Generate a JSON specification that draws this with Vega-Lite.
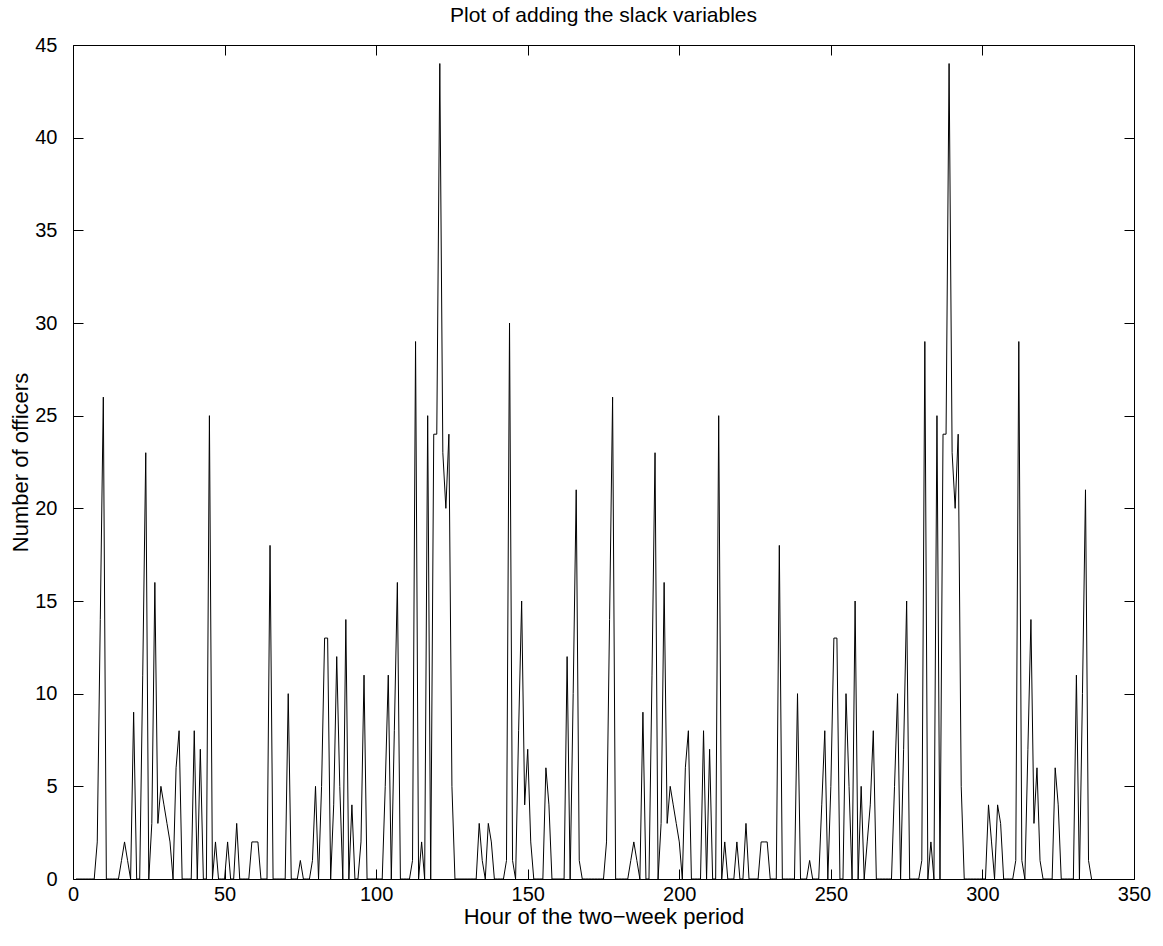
{
  "$schema": "https://vega.github.io/schema/vega-lite/v6.json",
  "width": 1061,
  "height": 834,
  "autosize": "none",
  "padding": {"left": 73, "top": 45, "right": 29, "bottom": 67},
  "background": "white",
  "config": {"view": {"stroke": null}, "font": "Liberation Sans"},
  "title": {"text": "Plot of adding the slack variables", "font": "Liberation Sans", "fontSize": 21, "fontWeight": "normal", "color": "black", "offset": 9},
  "data": {"values": [
{"h":1,"v":0},{"h":2,"v":0},{"h":3,"v":0},{"h":4,"v":0},{"h":5,"v":0},{"h":6,"v":0},{"h":7,"v":0},
{"h":8,"v":2},{"h":9,"v":14},{"h":10,"v":26},{"h":11,"v":0},{"h":12,"v":0},{"h":13,"v":0},{"h":14,"v":0},
{"h":15,"v":0},{"h":16,"v":1},{"h":17,"v":2},{"h":18,"v":1},{"h":19,"v":0},{"h":20,"v":9},{"h":21,"v":0},
{"h":22,"v":0},{"h":23,"v":11},{"h":24,"v":23},{"h":25,"v":0},{"h":26,"v":3},{"h":27,"v":16},{"h":28,"v":3},
{"h":29,"v":5},{"h":30,"v":4},{"h":31,"v":3},{"h":32,"v":2},{"h":33,"v":0},{"h":34,"v":6},{"h":35,"v":8},
{"h":36,"v":0},{"h":37,"v":0},{"h":38,"v":0},{"h":39,"v":0},{"h":40,"v":8},{"h":41,"v":0},{"h":42,"v":7},
{"h":43,"v":0},{"h":44,"v":0},{"h":45,"v":25},{"h":46,"v":0},{"h":47,"v":2},{"h":48,"v":0},{"h":49,"v":0},
{"h":50,"v":0},{"h":51,"v":2},{"h":52,"v":0},{"h":53,"v":0},{"h":54,"v":3},{"h":55,"v":0},{"h":56,"v":0},
{"h":57,"v":0},{"h":58,"v":0},{"h":59,"v":2},{"h":60,"v":2},{"h":61,"v":2},{"h":62,"v":0},{"h":63,"v":0},
{"h":64,"v":0},{"h":65,"v":18},{"h":66,"v":0},{"h":67,"v":0},{"h":68,"v":0},{"h":69,"v":0},{"h":70,"v":0},
{"h":71,"v":10},{"h":72,"v":0},{"h":73,"v":0},{"h":74,"v":0},{"h":75,"v":1},{"h":76,"v":0},{"h":77,"v":0},
{"h":78,"v":0},{"h":79,"v":1},{"h":80,"v":5},{"h":81,"v":0},{"h":82,"v":5},{"h":83,"v":13},{"h":84,"v":13},
{"h":85,"v":0},{"h":86,"v":4},{"h":87,"v":12},{"h":88,"v":5},{"h":89,"v":0},{"h":90,"v":14},{"h":91,"v":0},
{"h":92,"v":4},{"h":93,"v":0},{"h":94,"v":0},{"h":95,"v":2},{"h":96,"v":11},{"h":97,"v":0},{"h":98,"v":0},
{"h":99,"v":0},{"h":100,"v":0},{"h":101,"v":0},{"h":102,"v":0},{"h":103,"v":5},{"h":104,"v":11},{"h":105,"v":0},
{"h":106,"v":8},{"h":107,"v":16},{"h":108,"v":0},{"h":109,"v":0},{"h":110,"v":0},{"h":111,"v":0},{"h":112,"v":1},
{"h":113,"v":29},{"h":114,"v":0},{"h":115,"v":2},{"h":116,"v":0},{"h":117,"v":25},{"h":118,"v":0},{"h":119,"v":24},
{"h":120,"v":24},{"h":121,"v":44},{"h":122,"v":23},{"h":123,"v":20},{"h":124,"v":24},{"h":125,"v":5},{"h":126,"v":0},
{"h":127,"v":0},{"h":128,"v":0},{"h":129,"v":0},{"h":130,"v":0},{"h":131,"v":0},{"h":132,"v":0},{"h":133,"v":0},
{"h":134,"v":3},{"h":135,"v":1},{"h":136,"v":0},{"h":137,"v":3},{"h":138,"v":2},{"h":139,"v":0},{"h":140,"v":0},
{"h":141,"v":0},{"h":142,"v":0},{"h":143,"v":1},{"h":144,"v":30},{"h":145,"v":1},{"h":146,"v":0},{"h":147,"v":8},
{"h":148,"v":15},{"h":149,"v":4},{"h":150,"v":7},{"h":151,"v":2},{"h":152,"v":0},{"h":153,"v":0},{"h":154,"v":0},
{"h":155,"v":0},{"h":156,"v":6},{"h":157,"v":4},{"h":158,"v":0},{"h":159,"v":0},{"h":160,"v":0},{"h":161,"v":0},
{"h":162,"v":0},{"h":163,"v":12},{"h":164,"v":0},{"h":165,"v":10},{"h":166,"v":21},{"h":167,"v":1},{"h":168,"v":0},
{"h":169,"v":0},{"h":170,"v":0},{"h":171,"v":0},{"h":172,"v":0},{"h":173,"v":0},{"h":174,"v":0},{"h":175,"v":0},
{"h":176,"v":2},{"h":177,"v":14},{"h":178,"v":26},{"h":179,"v":0},{"h":180,"v":0},{"h":181,"v":0},{"h":182,"v":0},
{"h":183,"v":0},{"h":184,"v":1},{"h":185,"v":2},{"h":186,"v":1},{"h":187,"v":0},{"h":188,"v":9},{"h":189,"v":0},
{"h":190,"v":0},{"h":191,"v":11},{"h":192,"v":23},{"h":193,"v":0},{"h":194,"v":3},{"h":195,"v":16},{"h":196,"v":3},
{"h":197,"v":5},{"h":198,"v":4},{"h":199,"v":3},{"h":200,"v":2},{"h":201,"v":0},{"h":202,"v":6},{"h":203,"v":8},
{"h":204,"v":0},{"h":205,"v":0},{"h":206,"v":0},{"h":207,"v":0},{"h":208,"v":8},{"h":209,"v":0},{"h":210,"v":7},
{"h":211,"v":0},{"h":212,"v":0},{"h":213,"v":25},{"h":214,"v":0},{"h":215,"v":2},{"h":216,"v":0},{"h":217,"v":0},
{"h":218,"v":0},{"h":219,"v":2},{"h":220,"v":0},{"h":221,"v":0},{"h":222,"v":3},{"h":223,"v":0},{"h":224,"v":0},
{"h":225,"v":0},{"h":226,"v":0},{"h":227,"v":2},{"h":228,"v":2},{"h":229,"v":2},{"h":230,"v":0},{"h":231,"v":0},
{"h":232,"v":0},{"h":233,"v":18},{"h":234,"v":0},{"h":235,"v":0},{"h":236,"v":0},{"h":237,"v":0},{"h":238,"v":0},
{"h":239,"v":10},{"h":240,"v":0},{"h":241,"v":0},{"h":242,"v":0},{"h":243,"v":1},{"h":244,"v":0},{"h":245,"v":0},
{"h":246,"v":0},{"h":247,"v":4},{"h":248,"v":8},{"h":249,"v":0},{"h":250,"v":5},{"h":251,"v":13},{"h":252,"v":13},
{"h":253,"v":0},{"h":254,"v":0},{"h":255,"v":10},{"h":256,"v":5},{"h":257,"v":0},{"h":258,"v":15},{"h":259,"v":0},
{"h":260,"v":5},{"h":261,"v":0},{"h":262,"v":2},{"h":263,"v":4},{"h":264,"v":8},{"h":265,"v":0},{"h":266,"v":0},
{"h":267,"v":0},{"h":268,"v":0},{"h":269,"v":0},{"h":270,"v":0},{"h":271,"v":5},{"h":272,"v":10},{"h":273,"v":0},
{"h":274,"v":7},{"h":275,"v":15},{"h":276,"v":0},{"h":277,"v":0},{"h":278,"v":0},{"h":279,"v":0},{"h":280,"v":1},
{"h":281,"v":29},{"h":282,"v":0},{"h":283,"v":2},{"h":284,"v":0},{"h":285,"v":25},{"h":286,"v":0},{"h":287,"v":24},
{"h":288,"v":24},{"h":289,"v":44},{"h":290,"v":23},{"h":291,"v":20},{"h":292,"v":24},{"h":293,"v":5},{"h":294,"v":0},
{"h":295,"v":0},{"h":296,"v":0},{"h":297,"v":0},{"h":298,"v":0},{"h":299,"v":0},{"h":300,"v":0},{"h":301,"v":0},
{"h":302,"v":4},{"h":303,"v":2},{"h":304,"v":0},{"h":305,"v":4},{"h":306,"v":3},{"h":307,"v":0},{"h":308,"v":0},
{"h":309,"v":0},{"h":310,"v":0},{"h":311,"v":1},{"h":312,"v":29},{"h":313,"v":1},{"h":314,"v":0},{"h":315,"v":7},
{"h":316,"v":14},{"h":317,"v":3},{"h":318,"v":6},{"h":319,"v":1},{"h":320,"v":0},{"h":321,"v":0},{"h":322,"v":0},
{"h":323,"v":0},{"h":324,"v":6},{"h":325,"v":4},{"h":326,"v":0},{"h":327,"v":0},{"h":328,"v":0},{"h":329,"v":0},
{"h":330,"v":0},{"h":331,"v":11},{"h":332,"v":0},{"h":333,"v":10},{"h":334,"v":21},{"h":335,"v":1},{"h":336,"v":0}
  ]},
  "layer": [
    {
      "mark": {"type": "line", "color": "black", "strokeWidth": 1, "clip": true},
      "encoding": {
        "x": {"field": "h", "type": "quantitative",
          "scale": {"domain": [0, 350], "nice": false, "zero": false},
          "axis": {"orient": "bottom", "values": [0, 50, 100, 150, 200, 250, 300, 350], "grid": false,
            "tickSize": -10, "labelPadding": 15, "domainColor": "black", "tickColor": "black", "labelColor": "black",
            "labelFont": "Liberation Sans", "labelFontSize": 20, "labelFlush": false,
            "title": "Hour of the two−week period", "titleFont": "Liberation Sans", "titleFontSize": 22, "titleFontWeight": "normal", "titleColor": "black", "titlePadding": 2}},
        "y": {"field": "v", "type": "quantitative",
          "scale": {"domain": [0, 45], "nice": false, "zero": false},
          "axis": {"orient": "left", "values": [0, 5, 10, 15, 20, 25, 30, 35, 40, 45], "grid": false,
            "tickSize": -10, "labelPadding": 26, "domainColor": "black", "tickColor": "black", "labelColor": "black",
            "labelFont": "Liberation Sans", "labelFontSize": 20, "labelFlush": false,
            "title": "Number of officers", "titleFont": "Liberation Sans", "titleFontSize": 22, "titleFontWeight": "normal", "titleColor": "black", "titlePadding": 2}}
      }
    },
    {
      "mark": {"type": "line", "opacity": 0},
      "encoding": {
        "x": {"field": "h", "type": "quantitative",
          "axis": {"orient": "top", "values": [0, 50, 100, 150, 200, 250, 300, 350], "grid": false, "labels": false, "title": null,
            "tickSize": -10, "domainColor": "black", "tickColor": "black"}},
        "y": {"field": "v", "type": "quantitative",
          "axis": {"orient": "right", "values": [0, 5, 10, 15, 20, 25, 30, 35, 40, 45], "grid": false, "labels": false, "title": null,
            "tickSize": -10, "domainColor": "black", "tickColor": "black"}}
      }
    }
  ],
  "resolve": {"axis": {"x": "independent", "y": "independent"}}
}
